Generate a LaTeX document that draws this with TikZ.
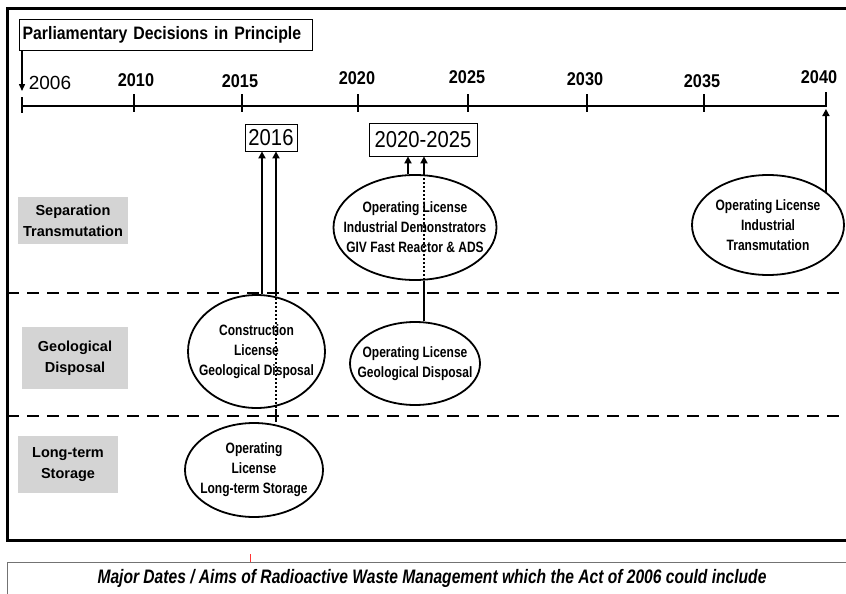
\documentclass[tikz,border=0pt]{standalone}
\usepackage{fontspec}
\setmainfont{Liberation Sans}
\newfontfamily\narrowfont[FakeStretch=0.88]{Liberation Sans}
\newfontfamily\tightfont[FakeStretch=0.8]{Liberation Sans}
\usetikzlibrary{shapes.geometric, arrows.meta}

\begin{document}
\begin{tikzpicture}[x=1pt, y=-1pt,
        flow/.style={line width=2pt, -{Triangle[length=7pt,width=7pt]}},
        event/.style={draw, ellipse, line width=1.8pt, inner xsep=-45pt, inner ysep=-30pt, align=center,
            font=\tightfont\bfseries\fontsize{15}{20}\selectfont},
        phase/.style={fill=black!17, align=center, inner sep=0pt, font=\bfseries\fontsize{14.5}{21}\selectfont},
        datebox/.style={draw, line width=0.8pt, inner sep=0pt, font=\narrowfont\fontsize{23}{23}\selectfont},
        year/.style={font=\narrowfont\bfseries\fontsize{18.5}{18.5}\selectfont},
        bandline/.style={line width=2pt, dash pattern=on 12pt off 8pt}]
        \useasboundingbox (0,0) rectangle (846,594);

        % Frames
        \draw[line width=3pt] (850,9) -- (7,9) -- (7,540) -- (850,540);
        \draw[black!55, line width=1pt] (850,562) -- (7,562) -- (7,600);
        \draw[red!80, line width=0.8pt] (250,554) -- (250,562);
        \draw[bandline] (7,293) -- (850,293);
        \draw[bandline] (7,416) -- (850,416);

        % Time line
        \coordinate (tl0) at (22,106);
        \coordinate (tl1) at (826,106);
        \draw[line width=2.5pt] (tl0) -- (tl1);
        \foreach \x in {134, 242, 358, 468, 587, 704} {
            \draw[line width=2.5pt] (\x,94) -- (\x,112);
        }
        \draw[line width=2.5pt] (22,97) -- (22,113);
        \draw[line width=2.5pt] (826,92) -- (826,107);
        \node (y2006) [font=\fontsize{19}{19}\selectfont] at (50,82.5) {2006};
        \node (y2010) [year] at (136,80.5) {2010};
        \node (y2015) [year] at (240,81) {2015};
        \node (y2020) [year] at (357,78) {2020};
        \node (y2025) [year] at (467,77) {2025};
        \node (y2030) [year] at (585,79) {2030};
        \node (y2035) [year] at (702,81) {2035};
        \node (y2040) [year] at (819,77) {2040};

        % Nodes
        \node (title) [draw, line width=1.2pt, anchor=north west, text width=287pt, align=left, inner xsep=3pt,
            minimum height=31pt, font=\narrowfont\bfseries\fontsize{18}{18}\selectfont] at (19,19) {Parliamentary Decisions in Principle};
        \node (d2016) [datebox, minimum width=52pt, minimum height=27pt] at (271,137.5) {2016};
        \node (d2020) [datebox, minimum width=108pt, minimum height=33pt] at (423,139.5) {2020-2025};

        \node (sepbox) [phase, minimum width=110pt, minimum height=47pt] at (73,220.5) {Separation\\Transmutation};
        \node (geobox) [phase, minimum width=106pt, minimum height=62pt] at (75,358) {Geological\\Disposal};
        \node (storebox) [phase, minimum width=100pt, minimum height=57pt] at (68,464.5) {Long-term\\Storage};

        \node (demo) [event, minimum width=163pt, minimum height=105pt] at (415,227.5) {Operating License\\Industrial Demonstrators\\GIV Fast Reactor \& ADS};
        \node (trans) [event, minimum width=152pt, minimum height=100pt] at (768,225) {Operating License\\Industrial\\Transmutation};
        \node (cons) [event, minimum width=137pt, minimum height=113pt] at (256.5,351.5) {Construction\\License\\Geological Disposal};
        \node (geo) [event, minimum width=130pt, minimum height=83pt] at (415,363.5) {Operating License\\Geological Disposal};
        \node (store) [event, minimum width=138pt, minimum height=94pt] at (254,470) {Operating\\License\\Long-term Storage};

        \node (caption) [font=\tightfont\bfseries\itshape\fontsize{19.5}{19.5}\selectfont] at (432,578)
            {Major Dates / Aims of Radioactive Waste Management which the Act of 2006 could include};

        % Arrows
        \coordinate (a2006) at (22,91);
        \coordinate (a2040) at (826,109);
        \coordinate (c16a) at (262,0);
        \coordinate (c16b) at (276,0);
        \coordinate (c20a) at (408,0);
        \coordinate (c20b) at (424,0);
        \draw[line width=1.5pt, -{Triangle[length=7pt,width=6pt]}] (title.south west -| a2006) -- (a2006);
        \draw[flow] (cons.north -| c16a) -- (d2016.south -| c16a);
        \draw[flow] (cons.north -| c16b) -- (d2016.south -| c16b);
        \draw[line width=2pt, dotted] (cons.north -| c16b) -- (cons.south -| c16b);
        \draw[line width=2pt] (cons.south -| c16b) -- (store.north -| c16b);
        \draw[flow] (demo.north -| c20a) -- (d2020.south -| c20a);
        \draw[flow] (demo.north -| c20b) -- (d2020.south -| c20b);
        \draw[line width=2pt, dotted] (demo.north -| c20b) -- (demo.south -| c20b);
        \draw[line width=2pt] (demo.south -| c20b) -- (geo.north -| c20b);
        \draw[flow] (trans.30) -- (trans.30 |- a2040);
    \end{tikzpicture}
\end{document}
